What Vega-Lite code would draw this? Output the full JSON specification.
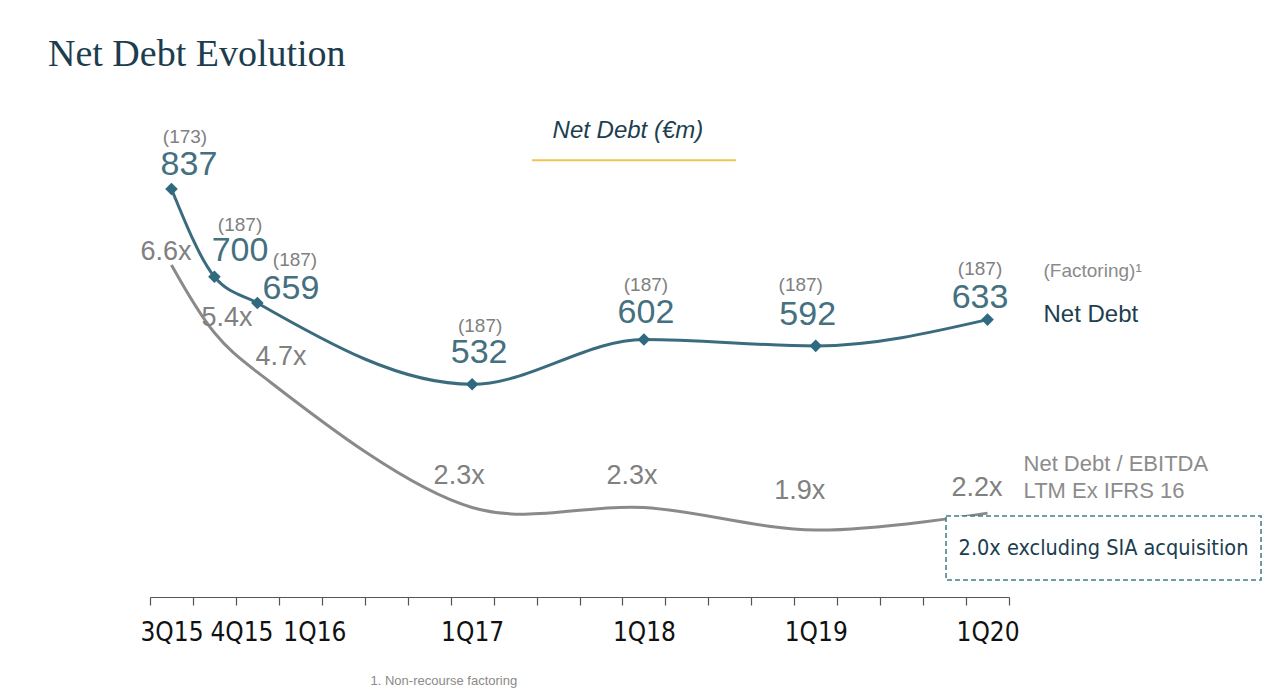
{
  "$schema": "https://vega.github.io/schema/vega-lite/v6.json",
  "width": 859,
  "height": 497,
  "autosize": "none",
  "padding": {"left": 150, "top": 100, "right": 271, "bottom": 92},
  "background": "white",
  "config": {"view": {"stroke": null}},
  "title": {
    "text": "Net Debt Evolution",
    "anchor": "start",
    "frame": "group",
    "font": "Liberation Serif",
    "fontSize": 38,
    "fontWeight": "normal",
    "color": "#1c3d4e",
    "dx": -102,
    "dy": 37,
    "offset": 33,
    "baseline": "alphabetic"
  },
  "data": {
    "values": [
      {"q": "3Q15", "nd": 837, "factoring": -173, "ratio": 6.6},
      {"q": "4Q15", "nd": 700, "factoring": -187, "ratio": 5.4},
      {"q": "1Q16", "nd": 659, "factoring": -187, "ratio": 4.7},
      {"q": "1Q17", "nd": 532, "factoring": -187, "ratio": 2.3},
      {"q": "1Q18", "nd": 602, "factoring": -187, "ratio": 2.3},
      {"q": "1Q19", "nd": 592, "factoring": -187, "ratio": 1.9},
      {"q": "1Q20", "nd": 633, "factoring": -187, "ratio": 2.2}
    ]
  },
  "encoding": {
    "x": {
      "field": "q",
      "type": "ordinal",
      "sort": null,
      "scale": {
        "type": "band",
        "domain": ["3Q15", "4Q15", "1Q16", "2Q16", "3Q16", "4Q16", "gap", "1Q17", "2Q17", "3Q17", "4Q17", "1Q18", "2Q18", "3Q18", "4Q18", "1Q19", "2Q19", "3Q19", "4Q19", "1Q20"],
        "paddingInner": 0,
        "paddingOuter": 0
      },
      "axis": {
        "title": "1. Non-recourse factoring",
        "titleX": 220,
        "titleY": 83,
        "titleAlign": "left",
        "titleBaseline": "middle",
        "titleFont": "Liberation Sans",
        "titleFontSize": 13,
        "titleFontWeight": "normal",
        "titleColor": "#8a8a8a",
        "tickBand": "extent",
        "tickSize": 8,
        "tickColor": "#555555",
        "tickWidth": 1.2,
        "domainColor": "#555555",
        "domainWidth": 1.2,
        "grid": false,
        "labelAngle": 0,
        "labelFont": "DejaVu Sans Condensed",
        "labelFontSize": 26,
        "labelColor": "#111111",
        "labelPadding": 14,
        "labelOverlap": false,
        "labelBound": false,
        "labelExpr": "indexof(['3Q15','4Q15','1Q16','1Q17','1Q18','1Q19','1Q20'], datum.value) >= 0 ? datum.value : ''",
        "labelOffset": {
          "condition": [
            {"test": "datum.value == '4Q15'", "value": 27},
            {"test": "datum.value == '1Q16'", "value": 57}
          ],
          "value": 0
        }
      }
    }
  },
  "layer": [
    {
      "encoding": {
        "y": {"field": "nd", "type": "quantitative", "scale": {"domain": [199.8, 976], "nice": false, "zero": false}, "axis": null}
      },
      "layer": [
        {"mark": {"type": "line", "interpolate": "monotone", "color": "#3a6b7e", "strokeWidth": 3}},
        {"mark": {"type": "point", "shape": "diamond", "filled": true, "opacity": 1, "color": "#2f6a80", "size": 160}},
        {
          "mark": {
            "type": "text", "font": "Liberation Sans", "fontSize": 34, "color": "#45707f", "align": "center", "baseline": "middle",
            "dx": {"expr": "[17.5,25.6,33.6,7,2,-8,-7.5][indexof(['3Q15','4Q15','1Q16','1Q17','1Q18','1Q19','1Q20'], datum.q)]"},
            "dy": {"expr": "[-24,-26,-14,-31,-26,-31,-22][indexof(['3Q15','4Q15','1Q16','1Q17','1Q18','1Q19','1Q20'], datum.q)]"}
          },
          "encoding": {"text": {"field": "nd", "type": "quantitative", "format": "d"}}
        },
        {
          "mark": {
            "type": "text", "font": "Liberation Sans", "fontSize": 19, "color": "#808080", "align": "center", "baseline": "middle",
            "dx": {"expr": "[13.5,25.6,37.6,8,2,-15,-7.5][indexof(['3Q15','4Q15','1Q16','1Q17','1Q18','1Q19','1Q20'], datum.q)]"},
            "dy": {"expr": "[-52,-52,-43,-58,-54,-61,-51][indexof(['3Q15','4Q15','1Q16','1Q17','1Q18','1Q19','1Q20'], datum.q)]"}
          },
          "encoding": {"text": {"field": "factoring", "type": "quantitative", "format": "("}}
        },
        {
          "transform": [{"filter": "datum.q == '1Q20'"}],
          "mark": {"type": "text", "text": "(Factoring)¹", "font": "Liberation Sans", "fontSize": 19, "color": "#8a8a8a", "align": "left", "baseline": "middle", "dx": 56, "dy": -49}
        },
        {
          "transform": [{"filter": "datum.q == '1Q20'"}],
          "mark": {"type": "text", "text": "Net Debt", "font": "Liberation Sans", "fontSize": 24, "color": "#1d3f50", "align": "left", "baseline": "middle", "dx": 56, "dy": -5}
        },
        {
          "transform": [{"filter": "datum.q == '1Q18'"}],
          "mark": {"type": "text", "text": "Net Debt (€m)", "font": "Liberation Sans", "fontSize": 24, "fontStyle": "italic", "color": "#1d3f50", "align": "center", "baseline": "middle", "dx": -16},
          "encoding": {"y": {"datum": 927.6}}
        },
        {
          "transform": [{"filter": "datum.q == '1Q17'"}],
          "mark": {"type": "rule", "color": "#f0c24e", "strokeWidth": 2, "xOffset": 60, "x2Offset": 92},
          "encoding": {"x2": {"datum": "1Q18"}, "y": {"datum": 882}}
        }
      ]
    },
    {
      "encoding": {
        "y": {"field": "ratio", "type": "quantitative", "scale": {"domain": [0.713, 9.526], "nice": false, "zero": false}, "axis": null}
      },
      "layer": [
        {"mark": {"type": "line", "interpolate": "catmull-rom", "color": "#8a8a8a", "strokeWidth": 3}},
        {
          "transform": [{"calculate": "format(datum.ratio, '.1f') + 'x'", "as": "ratio_label"}],
          "mark": {
            "type": "text", "font": "Liberation Sans", "fontSize": 27, "color": "#808080", "align": "center", "baseline": "middle",
            "dx": {"expr": "[-5.5,12.6,23.6,-13,-12,-16,-10.5][indexof(['3Q15','4Q15','1Q16','1Q17','1Q18','1Q19','1Q20'], datum.q)]"},
            "dy": {"expr": "[-13,-15,-15,-32,-32,-39,-25][indexof(['3Q15','4Q15','1Q16','1Q17','1Q18','1Q19','1Q20'], datum.q)]"}
          },
          "encoding": {"text": {"field": "ratio_label", "type": "nominal"}}
        },
        {
          "transform": [{"filter": "datum.q == '1Q20'"}],
          "mark": {"type": "text", "text": ["Net Debt / EBITDA", "LTM Ex IFRS 16"], "lineHeight": 27, "font": "Liberation Sans", "fontSize": 22, "color": "#8c8c8c", "align": "left", "baseline": "alphabetic", "dx": 36, "dy": -42}
        },
        {
          "transform": [{"filter": "datum.q == '1Q20'"}],
          "mark": {"type": "rect", "fill": "white", "stroke": "#3d7f86", "strokeWidth": 1.5, "strokeDash": [5, 3], "xOffset": -41.5, "x2Offset": 273.5},
          "encoding": {"x2": {"datum": "1Q20"}, "y": {"datum": 2.15}, "y2": {"datum": 1.015}}
        },
        {
          "transform": [{"filter": "datum.q == '1Q20'"}],
          "mark": {"type": "text", "text": "2.0x excluding SIA acquisition", "font": "DejaVu Sans Condensed", "fontSize": 21.5, "color": "#1b3d4f", "align": "center", "baseline": "middle", "dx": 116},
          "encoding": {"y": {"datum": 1.565}}
        }
      ]
    }
  ],
  "resolve": {"scale": {"y": "independent"}}
}
